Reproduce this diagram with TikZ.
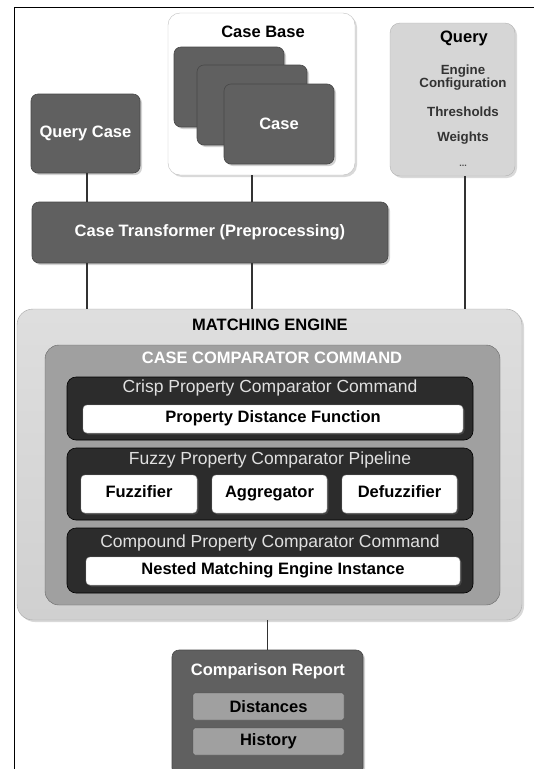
\documentclass[tikz,border=0pt]{standalone}
\usepackage{fontspec}
\setmainfont{Liberation Sans}
\usetikzlibrary{shadows,calc}
\definecolor{stonegray}{RGB}{96,96,96}
\definecolor{paleblock}{RGB}{214,214,214}
\definecolor{enginegray}{RGB}{208,208,208}
\definecolor{cmdgray}{RGB}{160,160,160}
\definecolor{darkcmd}{RGB}{44,44,44}
\definecolor{wiregray}{RGB}{50,50,50}
\tikzset{
  stone/.style={fill=stonegray,draw=stonegray!75!black,line width=0.6pt,rounded corners=7pt,
    drop shadow={opacity=0.35,shadow xshift=2pt,shadow yshift=-2pt},
    text=white,font=\bfseries\fontsize{16.5}{18}\selectfont},
  plate/.style={fill=white,draw=gray!60,rounded corners=4pt,
    drop shadow={opacity=0.3,shadow xshift=1.5pt,shadow yshift=-1.5pt},
    text height=1.5ex,text depth=.3ex,
    font=\bfseries\fontsize{16.5}{18}\selectfont},
  cmdbox/.style={fill=darkcmd,draw=black,rounded corners=9pt,line width=0.6pt},
  cmdtitle/.style={text=white!88!black,font=\fontsize{17.5}{19}\selectfont},
  wire/.style={draw=wiregray,line width=1.8pt},
}
\begin{document}
\begin{tikzpicture}[x=1pt,y=-1pt]
  \useasboundingbox (0,0) rectangle (534,769);
  % frame
  \draw[black,line width=1.2pt] (14.5,780) -- (14.5,7.5) -- (540,7.5);
  % upper row
  \node[draw=gray!50,fill=white,rounded corners=12pt,minimum width=187pt,minimum height=162pt,
    drop shadow={opacity=0.3,shadow xshift=2pt,shadow yshift=-2pt}] (casebase) at (261.5,94) {};
  \node[font=\bfseries\fontsize{16.5}{18}\selectfont] (casebasetitle) at (263,32) {Case Base};
  \node[stone,minimum width=110pt,minimum height=80pt] (card1) at (229,87) {};
  \node[stone,minimum width=110pt,minimum height=80pt] (card2) at (252,105) {};
  \node[stone,minimum width=110pt,minimum height=80pt] (card3) at (279,124) {Case};
  \node[stone,minimum width=109pt,minimum height=79pt] (querycase) at (85.5,133.5) {Query Case};
  \node[fill=paleblock,draw=gray!60,rounded corners=10pt,minimum width=125pt,minimum height=153pt,
    drop shadow={opacity=0.3,shadow xshift=2pt,shadow yshift=-2pt}] (query) at (452.5,99.5) {};
  \node[font=\bfseries\fontsize{16.5}{18}\selectfont] (querytitle) at (464,38) {Query};
  \node[font=\bfseries\fontsize{13.3}{13}\selectfont,text=black!80,align=center] (engconf) at (463,78) {Engine\\Configuration};
  \node[font=\bfseries\fontsize{13.3}{13}\selectfont,text=black!80] (thresholds) at (463,112) {Thresholds};
  \node[font=\bfseries\fontsize{13.3}{13}\selectfont,text=black!80] (weights) at (463,138) {Weights};
  \node[font=\bfseries\fontsize{9}{10}\selectfont,text=black!70] (moreparams) at (463,166) {...};
  \node[stone,minimum width=356pt,minimum height=61pt] (transformer) at (210,232.5) {Case Transformer (Preprocessing)};
  % matching engine
  \node[draw=gray!70,top color=enginegray!70,bottom color=enginegray,rounded corners=16pt,
    minimum width=505pt,minimum height=311pt,
    drop shadow={opacity=0.3,shadow xshift=2pt,shadow yshift=-2pt}] (engine) at (269.5,464.5) {};
  \node[font=\bfseries\fontsize{16.5}{18}\selectfont] (enginetitle) at (270,325) {MATCHING ENGINE};
  \node[fill=cmdgray,draw=gray!80!black,rounded corners=14pt,minimum width=455pt,minimum height=260pt] (comparator) at (272.5,475) {};
  \node[font=\bfseries\fontsize{16.5}{18}\selectfont,text=white] (comparatortitle) at (272,358) {CASE COMPARATOR COMMAND};
  % crisp
  \node[cmdbox,minimum width=406pt,minimum height=63pt] (crisp) at (270,408.5) {};
  \node[cmdtitle] (crisptitle) at (270,388) {Crisp Property Comparator Command};
  \node[plate,minimum width=380pt,minimum height=28pt] (distfn) at (273,419) {Property Distance Function};
  % fuzzy
  \node[cmdbox,minimum width=406pt,minimum height=72pt] (fuzzy) at (270,484) {};
  \node[cmdtitle] (fuzzytitle) at (270,460) {Fuzzy Property Comparator Pipeline};
  \node[plate,minimum width=116pt,minimum height=38pt] (fuzzifier) at (139,494) {Fuzzifier};
  \node[plate,minimum width=115pt,minimum height=38pt] (aggregator) at (269.5,494) {Aggregator};
  \node[plate,minimum width=115pt,minimum height=38pt] (defuzzifier) at (399.5,494) {Defuzzifier};
  % compound
  \node[cmdbox,minimum width=406pt,minimum height=65pt] (compound) at (270,560.5) {};
  \node[cmdtitle] (compoundtitle) at (270,543) {Compound Property Comparator Command};
  \node[plate,minimum width=374pt,minimum height=28pt] (nested) at (273,571) {Nested Matching Engine Instance};
  % report
  \node[stone,minimum width=191pt,minimum height=125pt] (report) at (267.5,712.5) {};
  \node[text=white,font=\bfseries\fontsize{16.5}{18}\selectfont] (reporttitle) at (268,671) {Comparison Report};
  \node[fill=cmdgray,draw=gray!60!black,rounded corners=2pt,minimum width=151pt,minimum height=27pt,
    font=\bfseries\fontsize{16.5}{18}\selectfont] (distances) at (268.5,706.5) {Distances};
  \node[fill=cmdgray,draw=gray!60!black,rounded corners=2pt,minimum width=151pt,minimum height=27pt,
    font=\bfseries\fontsize{16.5}{18}\selectfont] (history) at (268.5,741.5) {History};
  % connectors
  \draw[wire] ([xshift=1.5pt]querycase.south) -- ([xshift=1.5pt]querycase.south |- transformer.north);
  \draw[wire] ([xshift=-9.5pt]casebase.south) -- ([xshift=-9.5pt]casebase.south |- transformer.north);
  \draw[wire] ([xshift=1.5pt]querycase.south |- transformer.south) -- ([xshift=1.5pt]querycase.south |- engine.north);
  \draw[wire] ([xshift=-9.5pt]casebase.south |- transformer.south) -- ([xshift=-9.5pt]casebase.south |- engine.north);
  \draw[wire] ([xshift=12.5pt]query.south) -- ([xshift=12.5pt]query.south |- engine.north);
  \draw[wire] (engine.south -| report.north) -- (report.north);
\end{tikzpicture}
\end{document}
